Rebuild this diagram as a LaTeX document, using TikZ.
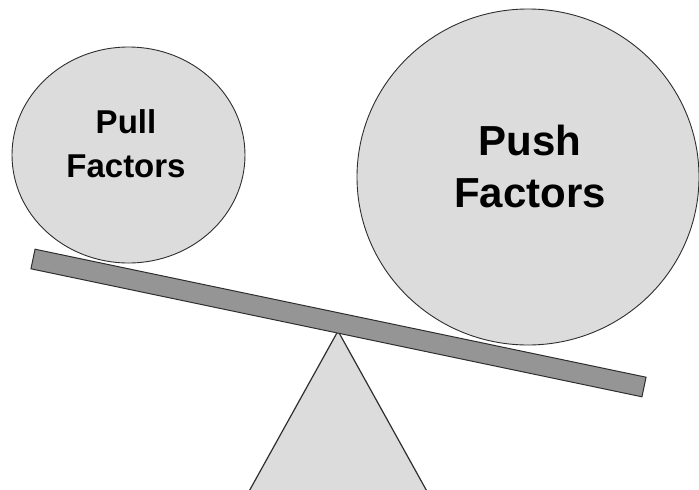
\documentclass[tikz,border=0pt]{standalone}
\usepackage{fontspec}
\setmainfont{Liberation Sans}
\usetikzlibrary{shapes.geometric}
\definecolor{disc}{HTML}{DCDCDC}
\definecolor{plank}{HTML}{959595}
\definecolor{edge}{HTML}{2E2E2E}

\begin{document}
\begin{tikzpicture}[x=1pt,y=-1pt,
  factor/.style={ellipse,draw=edge,fill=disc,line width=0.9pt,inner sep=0pt},
  lbl/.style={align=center,inner sep=0pt,font=\bfseries}]
  \useasboundingbox (0,0) rectangle (699,490);
  \clip (0,0) rectangle (699,490);
  % fulcrum first, so the plank hides its tip
  \draw[fill=disc,draw=edge,line width=1.2pt] (338,331) -- (222,540) -- (454,540) -- cycle;
  % plank
  \draw[fill=plank,draw=edge,line width=1pt]
    (35.05,249.2) -- (646.05,377.2) -- (641.95,396.8) -- (30.95,268.8) -- cycle;
  % the two loads
  \node[factor,minimum width=233pt,minimum height=216pt] (pull) at (128.5,155) {};
  \node[factor,minimum width=342pt,minimum height=336pt] (push) at (528,177) {};
  \node[lbl,font=\bfseries\fontsize{33}{44}\selectfont] (pulllbl) at (126,143.5) {Pull\\Factors};
  \node[lbl,font=\bfseries\fontsize{42}{52}\selectfont] (pushlbl) at (530,166) {Push\\Factors};
\end{tikzpicture}
\end{document}
